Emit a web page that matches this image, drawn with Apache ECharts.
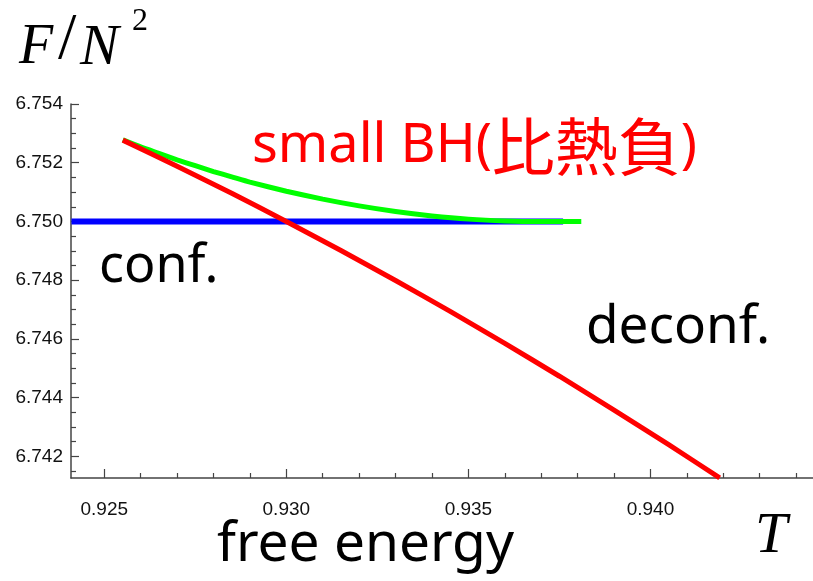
<!DOCTYPE html>
<html>
<head>
<meta charset="utf-8">
<script src="https://cdn.jsdelivr.net/npm/echarts@6/dist/echarts.min.js"></script>
<style>html,body{margin:0;padding:0;background:#fff}#c{width:813px;height:581px}</style>
</head>
<body>
<div id="c"></div>
<script>
// ---- data ----
const xMajorTicks = [0.925, 0.930, 0.935, 0.940];
const xMinorTicks = [0.926, 0.927, 0.928, 0.929, 0.931, 0.932, 0.933, 0.934, 0.936, 0.937, 0.938, 0.939, 0.941, 0.942, 0.943, 0.944];
const yMajorTicks = [6.742, 6.744, 6.746, 6.748, 6.750, 6.752, 6.754];
const yMinorTicks = [6.7415, 6.7425, 6.743, 6.7435, 6.7445, 6.745, 6.7455, 6.7465, 6.747, 6.7475, 6.7485, 6.749, 6.7495, 6.7505, 6.751, 6.7515, 6.7525, 6.753, 6.7535];

const blueT = [0.9241, 0.9376];
const blueF = [6.75, 6.75];

const greenT = [0.92551, 0.9260, 0.9265, 0.9270, 0.9275, 0.9280, 0.9285, 0.9290, 0.9300, 0.9310, 0.9320, 0.9330, 0.9340, 0.9350, 0.9360, 0.9370, 0.9381];
const greenF = [6.75278, 6.75254, 6.75232, 6.75210, 6.75190, 6.75170, 6.75152, 6.75134, 6.75103, 6.75076, 6.75053, 6.75034, 6.75019, 6.75008, 6.75002, 6.75000, 6.75000];

const redT = [0.92551, 0.9270, 0.9285, 0.9300, 0.9315, 0.9330, 0.9345, 0.9360, 0.9375, 0.9390, 0.9405, 0.9419];
const redF = [6.75277, 6.75188, 6.75096, 6.75000, 6.74901, 6.74799, 6.74694, 6.74585, 6.74473, 6.74358, 6.74240, 6.74127];

const xMin = 0.924087, xMax = 0.944463;
const yMin = 6.741265, yMax = 6.754;

const zip = (a, b) => a.map((v, i) => [v, b[i]]);

const chart = echarts.init(document.getElementById('c'), null, {renderer: 'canvas'});
const axisColor = '#444';
const tickFont = {fontFamily: 'Liberation Sans, Arial, sans-serif', fontSize: 19, color: '#111'};
const sansFont = "'Noto Sans', 'Open Sans', sans-serif";
const serifFont = "'Liberation Serif', 'DejaVu Serif', serif";

chart.setOption({
  animation: false,
  grid: {left: 71, right: 0, top: 104, bottom: 103, containLabel: false},
  xAxis: [
    {type: 'value', min: xMin, max: xMax,
     axisLine: {show: true, lineStyle: {color: axisColor, width: 1.5}},
     axisTick: {show: true, inside: true, length: 9, customValues: xMajorTicks, lineStyle: {color: axisColor, width: 1.2}},
     axisLabel: {show: true, margin: 22, customValues: xMajorTicks, formatter: v => v.toFixed(3), ...tickFont},
     splitLine: {show: false}},
    {type: 'value', min: xMin, max: xMax, gridIndex: 0, position: 'bottom',
     axisLine: {show: false},
     axisTick: {show: true, inside: true, length: 5, customValues: xMinorTicks, lineStyle: {color: axisColor, width: 1.2}},
     axisLabel: {show: false},
     splitLine: {show: false}}
  ],
  yAxis: [
    {type: 'value', min: yMin, max: yMax,
     axisLine: {show: true, lineStyle: {color: axisColor, width: 1.5}},
     axisTick: {show: true, inside: true, length: 8, customValues: yMajorTicks, lineStyle: {color: axisColor, width: 1.2}},
     axisLabel: {show: true, margin: 8, customValues: yMajorTicks, formatter: v => v.toFixed(3), ...tickFont},
     splitLine: {show: false}},
    {type: 'value', min: yMin, max: yMax, gridIndex: 0, position: 'left',
     axisLine: {show: false},
     axisTick: {show: true, inside: true, length: 5, customValues: yMinorTicks, lineStyle: {color: axisColor, width: 1.2}},
     axisLabel: {show: false},
     splitLine: {show: false}}
  ],
  series: [
    {type: 'line', name: 'conf', data: zip(blueT, blueF), showSymbol: false, lineStyle: {color: '#0000ff', width: 6}, z: 2},
    {type: 'line', name: 'smallBH', data: zip(greenT, greenF), showSymbol: false, smooth: 0.2, lineStyle: {color: '#00ff00', width: 5}, z: 3},
    {type: 'line', name: 'deconf', data: zip(redT, redF), showSymbol: false, smooth: 0.2, lineStyle: {color: '#ff0000', width: 5}, z: 4}
  ],
  graphic: [
    {type: 'text', left: 19, top: 20, style: {text: 'F', font: 'italic 56px ' + serifFont, fill: '#000'}},
    {type: 'text', left: 58, top: 8, style: {text: '/', font: '66px ' + serifFont, fill: '#000'}},
    {type: 'text', left: 80, top: 20, style: {text: 'N', font: 'italic 58px ' + serifFont, fill: '#000'}},
    {type: 'text', left: 132, top: 6, style: {text: '2', font: '32px ' + serifFont, fill: '#000'}},
    {type: 'text', left: 755, top: 508, style: {text: 'T', font: 'italic 58px ' + serifFont, fill: '#000'}},
    {type: 'text', left: 252, top: 115, style: {
      text: '{a|small BH(}{b|比熱負}{a|)}',
      rich: {
        a: {fontFamily: sansFont, fontSize: 54, fill: '#ff0000', color: '#ff0000'},
        b: {fontFamily: "'Noto Sans CJK JP', sans-serif", fontSize: 63, fill: '#ff0000', color: '#ff0000'}
      }}},
    {type: 'text', left: 99, top: 241, style: {text: 'conf.', font: '52px ' + sansFont, fill: '#000'}},
    {type: 'text', left: 586, top: 301, style: {text: 'deconf.', font: '53px ' + sansFont, fill: '#000'}},
    {type: 'text', left: 217, top: 518, style: {text: 'free energy', font: '55px ' + sansFont, fill: '#000'}}
  ]
});
</script>
</body>
</html>
